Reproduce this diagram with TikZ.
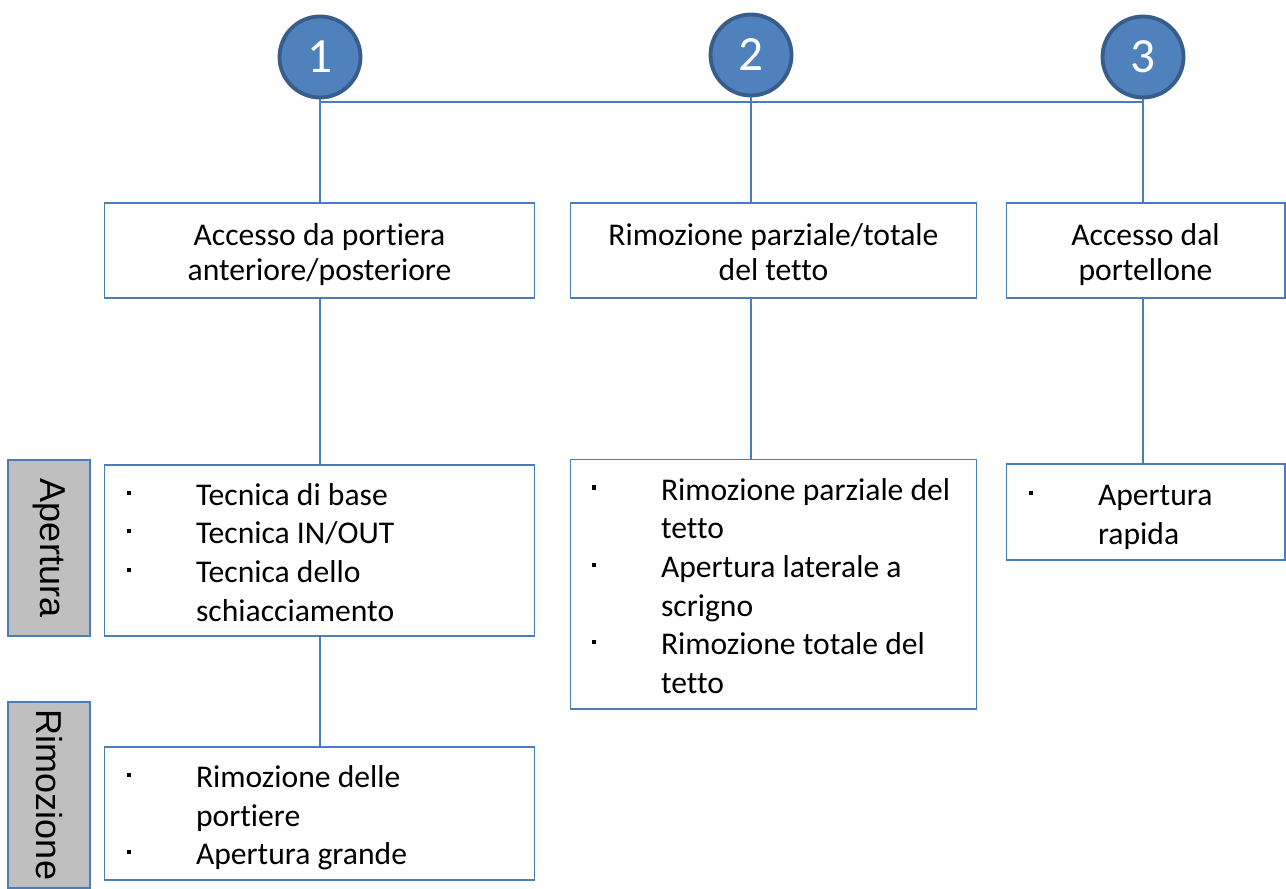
\documentclass[tikz,border=0pt]{standalone}
\usepackage{fontspec}
\setmainfont{Carlito}[Ligatures=NoCommon]
\newfontfamily\sidefont{Liberation Sans}
\usetikzlibrary{positioning}
\definecolor{numblue}{HTML}{4F81BD}
\definecolor{numedge}{HTML}{385D8A}
\definecolor{lineblue}{HTML}{4A7EBB}
\definecolor{sidegray}{HTML}{BFBFBF}
\newcommand{\lstr}{\rule[-3.5pt]{0pt}{21.5pt}}
\newcommand{\tstr}{\rule[-2.5pt]{0pt}{19.5pt}}
\newcommand{\blt}[1]{\lstr\makebox[1.38cm][l]{\rule[6pt]{2.4pt}{2.4pt}}\mbox{#1}}
\newcommand{\cnt}[1]{\lstr\hspace*{1.38cm}\mbox{#1}}

\begin{document}
\begin{tikzpicture}[x=0.02cm, y=-0.02cm,
        num/.style={circle, draw=numedge, line width=2.2pt, fill=numblue,
                    minimum size=1.62cm, inner sep=0pt, text=white,
                    font=\fontsize{28}{32}\selectfont},
        box/.style={rectangle, draw=lineblue, line width=0.6pt, align=center,
                    inner sep=0pt, font=\fontsize{18}{20}\selectfont},
        lst/.style={box, align=flush left, inner xsep=0.46cm,
                    font=\fontsize{18}{22}\selectfont},
        side/.style={rectangle, draw=lineblue, fill=sidegray, line width=0.6pt,
                     rotate=-90, inner sep=0pt, minimum height=1.64cm,
                     font=\sidefont\fontsize{20.5}{24}\selectfont},
        conn/.style={lineblue, line width=0.85pt}]
        \useasboundingbox (0,0) rectangle (1286,889);
        \node[num] (num1) at (320,57) {1};
        \node[num] (num2) at (751,55) {2};
        \node[num] (num3) at (1143,57) {3};
        \node[box, minimum width=8.62cm, minimum height=1.9cm] (top1) at (319.5,250.5)
            {\tstr Accesso da portiera\\anteriore/posteriore\tstr};
        \node[box, minimum width=8.14cm, minimum height=1.9cm] (top2) at (773.5,250.5)
            {\tstr Rimozione parziale/totale\\del tetto\tstr};
        \node[box, minimum width=5.58cm, minimum height=1.9cm] (top3) at (1145.5,250.5)
            {\tstr Accesso dal\\portellone\tstr};
        \node[lst, text width=7.7cm, minimum height=3.42cm] (aper) at (319.5,550.5)
            {\blt{Tecnica di base}\\ \blt{Tecnica IN/OUT}\\ \blt{Tecnica dello}\\ \cnt{schiacciamento}};
        \node[lst, text width=7.7cm, minimum height=2.66cm] (rimo) at (319.5,813.5)
            {\blt{Rimozione delle}\\ \cnt{portiere}\\ \blt{Apertura grande}};
        \node[lst, text width=7.26cm, minimum height=5cm, inner xsep=0.44cm] (tetto) at (773.5,584)
            {\blt{Rimozione parziale del}\\ \cnt{tetto}\\ \blt{Apertura laterale a}\\ \cnt{scrigno}\\
             \blt{Rimozione totale del}\\ \cnt{tetto}};
        \node[lst, text width=4.66cm, minimum height=1.92cm] (rapida) at (1145.5,512)
            {\blt{Apertura}\\ \cnt{rapida}};
        \node[side, minimum width=3.52cm] (sideaper) at (49,548) {Apertura};
        \node[side, minimum width=3.72cm] (siderimo) at (49,795) {Rimozione};
        \draw[conn] ([yshift=-0.05cm]num1.south) -- ([yshift=-0.05cm]num3.south);
        \draw[conn] (num1.south) -- (num1 |- top1.north);
        \draw[conn] (num2.south) -- (num2 |- top2.north);
        \draw[conn] (num3.south) -- (num3 |- top3.north);
        \draw[conn] (num1 |- top1.south) -- (num1 |- aper.north);
        \draw[conn] (num1 |- aper.south) -- (num1 |- rimo.north);
        \draw[conn] (num2 |- top2.south) -- (num2 |- tetto.north);
        \draw[conn] (num3 |- top3.south) -- (num3 |- rapida.north);
    \end{tikzpicture}
\end{document}
